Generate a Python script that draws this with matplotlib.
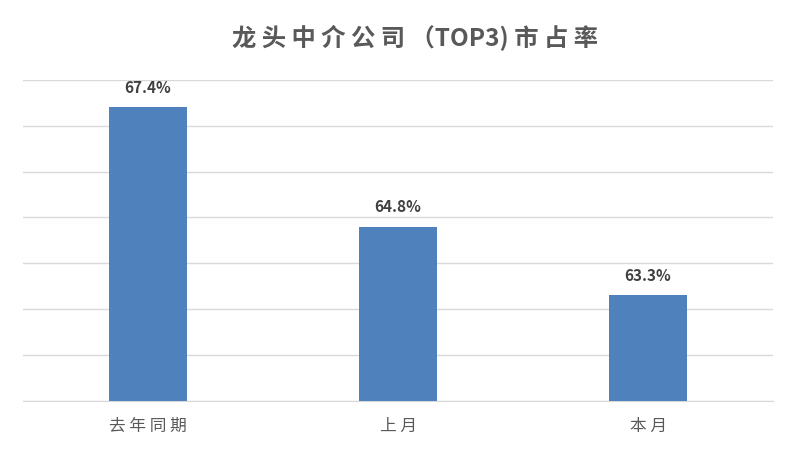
import matplotlib.pyplot as plt
import numpy as np

plt.rcParams['font.family'] = ['Noto Sans CJK SC', 'DejaVu Sans']

categories = ["去年同期", "上月", "本月"]
values = [67.4, 64.8, 63.3]
labels = ["67.4%", "64.8%", "63.3%"]
title = "龙头中介公司（TOP3)市占率"


def spaced(s):
    # spread CJK glyphs apart like the original chart font
    return " ".join(s).replace("T O P 3 )", "TOP3)").replace("（ ", "（")


fig = plt.figure(figsize=(7.97, 4.51), dpi=100)
ax = fig.add_axes([0.029, 0.111, 0.941, 0.712])

x = np.arange(len(categories))
ax.bar(x, values, width=0.31, color="#4F81BD", zorder=3)
ax.set_ylim(61, 68)
ax.set_xlim(-0.5, 2.5)
ax.set_yticks(np.arange(61, 68.1, 1))
ax.yaxis.grid(True, color="#D9D9D9", linewidth=1, zorder=0)
ax.tick_params(axis="y", left=False, labelleft=False)
ax.tick_params(axis="x", length=0, pad=12, labelsize=12, colors="#595959")
ax.set_xticks(x)
ax.set_xticklabels([spaced(c) for c in categories])
for s in ["top", "left", "right"]:
    ax.spines[s].set_visible(False)
ax.spines["bottom"].set_color("#D9D9D9")

for xi, v, t in zip(x, values, labels):
    ax.text(xi, v + 0.25, t, ha="center", va="bottom", fontsize=11,
            fontweight="bold", color="#404040")

fig.text(0.521, 0.916, spaced(title), ha="center", va="center",
         fontsize=17.5, fontweight="bold", color="#595959")

fig.savefig("out.png", dpi=100)
